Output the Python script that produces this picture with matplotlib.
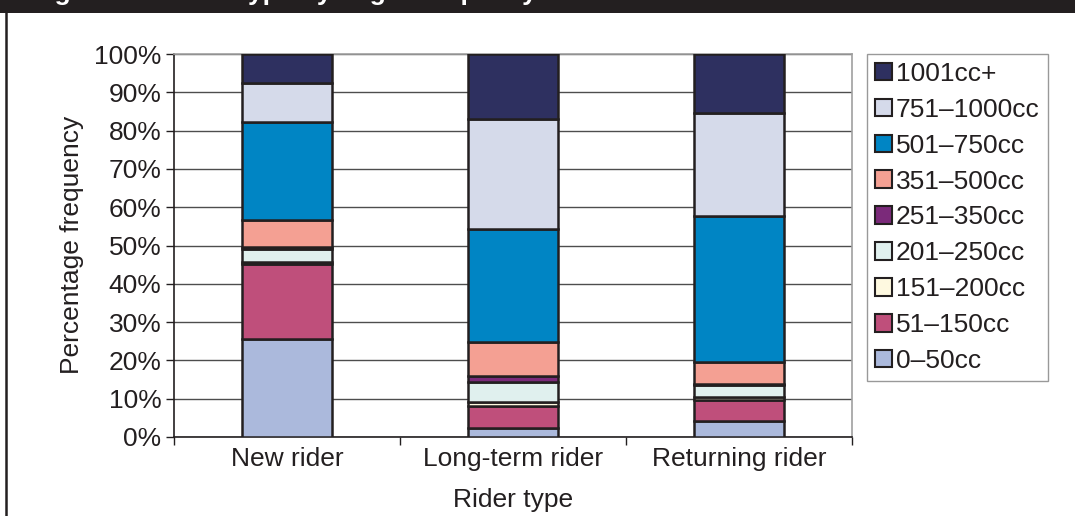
import matplotlib
matplotlib.use("Agg")
import matplotlib.pyplot as plt
import matplotlib.patches as mpatches
from matplotlib.lines import Line2D
import numpy as np

plt.rcParams['font.family'] = ['Liberation Sans', 'DejaVu Sans']

# data (percent of each rider type), bottom to top
rider_types = ['New rider', 'Long-term rider', 'Returning rider']
engine_bands = ['0\u201350cc', '51\u2013150cc', '151\u2013200cc', '201\u2013250cc',
                '251\u2013350cc', '351\u2013500cc', '501\u2013750cc',
                '751\u20131000cc', '1001cc+']
cc_0_50 = [25.7, 2.4, 4.2]
cc_51_150 = [19.4, 5.7, 5.5]
cc_151_200 = [0.6, 1.0, 0.7]
cc_201_250 = [3.5, 5.2, 3.2]
cc_251_350 = [0.3, 1.5, 0.2]
cc_351_500 = [7.1, 9.0, 5.9]
cc_501_750 = [25.6, 29.5, 38.0]
cc_751_1000 = [10.3, 28.7, 27.0]
cc_1001_plus = [7.5, 16.9, 15.3]

band_colors = ['#ABB9DC', '#BF4F7B', '#FEF9E0', '#E0F0EE', '#7B2A7A',
               '#F4A093', '#0085C4', '#D5DAEA', '#2E3060']

series = [cc_0_50, cc_51_150, cc_151_200, cc_201_250, cc_251_350,
          cc_351_500, cc_501_750, cc_751_1000, cc_1001_plus]

W, H = 1075, 516
fig = plt.figure(figsize=(W / 100, H / 100), dpi=100)
ax = fig.add_axes([174 / W, 1 - 437 / H, 678 / W, 383 / H])

ink = '#231F20'
fs = 19

x = np.arange(len(rider_types))
bottom = np.zeros(len(rider_types))
for vals, col in zip(series, band_colors):
    ax.bar(x, vals, bottom=bottom, width=0.40, color=col,
           edgecolor=ink, linewidth=1.8, zorder=3)
    bottom += np.array(vals)

ax.set_xlim(-0.5, 2.5)
ax.set_ylim(0, 100)
ax.set_yticks(np.arange(0, 101, 10))
ax.set_yticklabels([f'{v}%' for v in range(0, 101, 10)], fontsize=fs, color=ink)
ax.yaxis.grid(True, color='#4d4d4d', linewidth=1.0, zorder=0)
ax.set_axisbelow(True)
ax.tick_params(axis='y', length=6, width=1, color=ink, pad=3)

ax.set_xticks(x)
ax.set_xticklabels(rider_types, fontsize=fs, color=ink)
ax.set_xticks([-0.5, 0.5, 1.5, 2.5], minor=True)
ax.tick_params(axis='x', which='major', length=0, pad=7)
ax.tick_params(axis='x', which='minor', length=6, width=1, color=ink)

ax.spines['left'].set_color(ink)
ax.spines['bottom'].set_color(ink)
ax.spines['top'].set_color('#A0A0A0')
ax.spines['right'].set_color('#A0A0A0')
for s in ax.spines.values():
    s.set_linewidth(1.2)

fig.text(72 / W, 1 - 245 / H, 'Percentage frequency', rotation=90,
         ha='center', va='center', fontsize=fs, color=ink)
fig.text(513 / W, 1 - 500 / H, 'Rider type', ha='center', va='center',
         fontsize=fs, color=ink)

handles = [mpatches.Patch(facecolor=c, edgecolor=ink, linewidth=1.5, label=l)
           for c, l in zip(band_colors, engine_bands)][::-1]
leg = fig.legend(handles=handles, loc='upper left',
                 bbox_to_anchor=(867 / W, 1 - 54 / H), borderaxespad=0,
                 fontsize=fs, handlelength=0.65, handleheight=0.65,
                 handletextpad=0.15, labelspacing=0.45, borderpad=0.3,
                 fancybox=False, frameon=True)
leg.get_frame().set_edgecolor('#808080')
leg.get_frame().set_linewidth(1.0)
for t in leg.get_texts():
    t.set_color(ink)

# black header band with the clipped title and left frame line
fig.patches.append(mpatches.Rectangle((0, 1 - 13 / H), 1, 13 / H,
                                      transform=fig.transFigure,
                                      facecolor=ink, edgecolor='none'))
fig.text(31 / W, 1.0, 'Figure 10: Rider type by engine capacity',
         color='white', fontweight='bold', fontsize=fs, va='baseline')
fig.lines.append(Line2D([6 / W, 6 / W], [0, 1 - 13 / H],
                        transform=fig.transFigure, color=ink, linewidth=1.8))

fig.savefig('out.png', dpi=100)
